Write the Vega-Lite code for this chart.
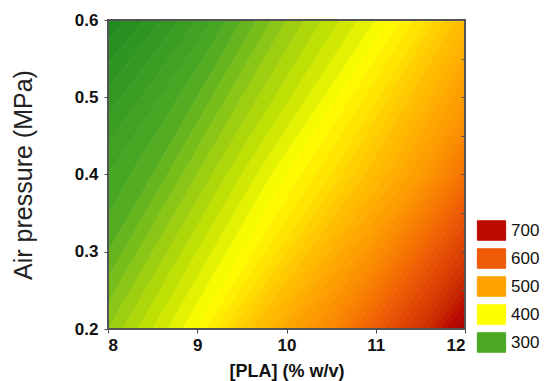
{
  "$schema": "https://vega.github.io/schema/vega-lite/v6.json",
  "width": 357,
  "height": 309,
  "autosize": "none",
  "padding": {"left": 108, "top": 20, "right": 83, "bottom": 52},
  "background": "white",
  "config": {
    "font": "Liberation Sans",
    "view": {"stroke": null}
  },
  "resolve": {"axis": {"y": "independent"}},
  "data": {"values": [
    {"z":235,"y":0.2,"x":0,"x2":6.333},{"z":235,"y":0.4,"x":0,"x2":6.75},{"z":235,"y":0.6,"x":0,"x2":8.2},
    {"z":245,"y":0.2,"x":6.333,"x2":6.5},{"z":245,"y":0.4,"x":6.75,"x2":7.0},{"z":245,"y":0.6,"x":8.2,"x2":8.4},
    {"z":255,"y":0.2,"x":6.5,"x2":6.667},{"z":255,"y":0.4,"x":7.0,"x2":7.25},{"z":255,"y":0.6,"x":8.4,"x2":8.6},
    {"z":265,"y":0.2,"x":6.667,"x2":6.833},{"z":265,"y":0.4,"x":7.25,"x2":7.5},{"z":265,"y":0.6,"x":8.6,"x2":8.8},
    {"z":275,"y":0.2,"x":6.833,"x2":7.0},{"z":275,"y":0.4,"x":7.5,"x2":7.75},{"z":275,"y":0.6,"x":8.8,"x2":9.0},
    {"z":285,"y":0.2,"x":7.0,"x2":7.167},{"z":285,"y":0.4,"x":7.75,"x2":8.0},{"z":285,"y":0.6,"x":9.0,"x2":9.167},
    {"z":295,"y":0.2,"x":7.167,"x2":7.333},{"z":295,"y":0.4,"x":8.0,"x2":8.25},{"z":295,"y":0.6,"x":9.167,"x2":9.333},
    {"z":305,"y":0.2,"x":7.333,"x2":7.5},{"z":305,"y":0.4,"x":8.25,"x2":8.5},{"z":305,"y":0.6,"x":9.333,"x2":9.5},
    {"z":315,"y":0.2,"x":7.5,"x2":7.667},{"z":315,"y":0.4,"x":8.5,"x2":8.667},{"z":315,"y":0.6,"x":9.5,"x2":9.667},
    {"z":325,"y":0.2,"x":7.667,"x2":7.833},{"z":325,"y":0.4,"x":8.667,"x2":8.833},{"z":325,"y":0.6,"x":9.667,"x2":9.833},
    {"z":335,"y":0.2,"x":7.833,"x2":8.0},{"z":335,"y":0.4,"x":8.833,"x2":9.0},{"z":335,"y":0.6,"x":9.833,"x2":10.0},
    {"z":345,"y":0.2,"x":8.0,"x2":8.167},{"z":345,"y":0.4,"x":9.0,"x2":9.167},{"z":345,"y":0.6,"x":10.0,"x2":10.2},
    {"z":355,"y":0.2,"x":8.167,"x2":8.333},{"z":355,"y":0.4,"x":9.167,"x2":9.333},{"z":355,"y":0.6,"x":10.2,"x2":10.4},
    {"z":365,"y":0.2,"x":8.333,"x2":8.5},{"z":365,"y":0.4,"x":9.333,"x2":9.5},{"z":365,"y":0.6,"x":10.4,"x2":10.6},
    {"z":375,"y":0.2,"x":8.5,"x2":8.667},{"z":375,"y":0.4,"x":9.5,"x2":9.667},{"z":375,"y":0.6,"x":10.6,"x2":10.8},
    {"z":385,"y":0.2,"x":8.667,"x2":8.833},{"z":385,"y":0.4,"x":9.667,"x2":9.833},{"z":385,"y":0.6,"x":10.8,"x2":11.0},
    {"z":395,"y":0.2,"x":8.833,"x2":9.0},{"z":395,"y":0.4,"x":9.833,"x2":10.0},{"z":395,"y":0.6,"x":11.0,"x2":11.143},
    {"z":405,"y":0.2,"x":9.0,"x2":9.1},{"z":405,"y":0.4,"x":10.0,"x2":10.167},{"z":405,"y":0.6,"x":11.143,"x2":11.286},
    {"z":415,"y":0.2,"x":9.1,"x2":9.2},{"z":415,"y":0.4,"x":10.167,"x2":10.333},{"z":415,"y":0.6,"x":11.286,"x2":11.429},
    {"z":425,"y":0.2,"x":9.2,"x2":9.3},{"z":425,"y":0.4,"x":10.333,"x2":10.5},{"z":425,"y":0.6,"x":11.429,"x2":11.571},
    {"z":435,"y":0.2,"x":9.3,"x2":9.4},{"z":435,"y":0.4,"x":10.5,"x2":10.625},{"z":435,"y":0.6,"x":11.571,"x2":11.667},
    {"z":445,"y":0.2,"x":9.4,"x2":9.5},{"z":445,"y":0.4,"x":10.625,"x2":10.75},{"z":445,"y":0.6,"x":11.667,"x2":11.778},
    {"z":455,"y":0.2,"x":9.5,"x2":9.611},{"z":455,"y":0.4,"x":10.75,"x2":10.875},{"z":455,"y":0.6,"x":11.778,"x2":11.889},
    {"z":465,"y":0.2,"x":9.611,"x2":9.722},{"z":465,"y":0.4,"x":10.875,"x2":11.0},{"z":465,"y":0.6,"x":11.889,"x2":12.0},
    {"z":475,"y":0.2,"x":9.722,"x2":9.833},{"z":475,"y":0.4,"x":11.0,"x2":11.125},{"z":475,"y":0.6,"x":12.0,"x2":12.111},
    {"z":485,"y":0.2,"x":9.833,"x2":9.944},{"z":485,"y":0.4,"x":11.125,"x2":11.25},{"z":485,"y":0.6,"x":12.111,"x2":12.222},
    {"z":495,"y":0.2,"x":9.944,"x2":10.056},{"z":495,"y":0.4,"x":11.25,"x2":11.375},{"z":495,"y":0.6,"x":12.222,"x2":12.333},
    {"z":505,"y":0.2,"x":10.056,"x2":10.167},{"z":505,"y":0.4,"x":11.375,"x2":11.5},{"z":505,"y":0.6,"x":12.333,"x2":12.444},
    {"z":515,"y":0.2,"x":10.167,"x2":10.278},{"z":515,"y":0.4,"x":11.5,"x2":11.583},{"z":515,"y":0.6,"x":12.444,"x2":12.556},
    {"z":525,"y":0.2,"x":10.278,"x2":10.389},{"z":525,"y":0.4,"x":11.583,"x2":11.667},{"z":525,"y":0.6,"x":12.556,"x2":12.667},
    {"z":535,"y":0.2,"x":10.389,"x2":10.5},{"z":535,"y":0.4,"x":11.667,"x2":11.75},{"z":535,"y":0.6,"x":12.667,"x2":12.778},
    {"z":545,"y":0.2,"x":10.5,"x2":10.583},{"z":545,"y":0.4,"x":11.75,"x2":11.833},{"z":545,"y":0.6,"x":12.778,"x2":12.889},
    {"z":555,"y":0.2,"x":10.583,"x2":10.667},{"z":555,"y":0.4,"x":11.833,"x2":11.917},{"z":555,"y":0.6,"x":12.889,"x2":13.0},
    {"z":565,"y":0.2,"x":10.667,"x2":10.75},{"z":565,"y":0.4,"x":11.917,"x2":12.0},{"z":565,"y":0.6,"x":13.0,"x2":13.111},
    {"z":575,"y":0.2,"x":10.75,"x2":10.833},{"z":575,"y":0.4,"x":12.0,"x2":12.083},{"z":575,"y":0.6,"x":13.111,"x2":13.222},
    {"z":585,"y":0.2,"x":10.833,"x2":10.917},{"z":585,"y":0.4,"x":12.083,"x2":12.167},{"z":585,"y":0.6,"x":13.222,"x2":13.333},
    {"z":595,"y":0.2,"x":10.917,"x2":11.0},{"z":595,"y":0.4,"x":12.167,"x2":12.25},{"z":595,"y":0.6,"x":13.333,"x2":13.444},
    {"z":605,"y":0.2,"x":11.0,"x2":11.083},{"z":605,"y":0.4,"x":12.25,"x2":12.333},{"z":605,"y":0.6,"x":13.444,"x2":13.556},
    {"z":615,"y":0.2,"x":11.083,"x2":11.167},{"z":615,"y":0.4,"x":12.333,"x2":12.417},{"z":615,"y":0.6,"x":13.556,"x2":13.667},
    {"z":625,"y":0.2,"x":11.167,"x2":11.25},{"z":625,"y":0.4,"x":12.417,"x2":12.5},{"z":625,"y":0.6,"x":13.667,"x2":13.778},
    {"z":635,"y":0.2,"x":11.25,"x2":11.333},{"z":635,"y":0.4,"x":12.5,"x2":12.583},{"z":635,"y":0.6,"x":13.778,"x2":13.889},
    {"z":645,"y":0.2,"x":11.333,"x2":11.417},{"z":645,"y":0.4,"x":12.583,"x2":12.667},{"z":645,"y":0.6,"x":13.889,"x2":14.0},
    {"z":655,"y":0.2,"x":11.417,"x2":11.5},{"z":655,"y":0.4,"x":12.667,"x2":12.75},{"z":655,"y":0.6,"x":14.0,"x2":14.111},
    {"z":665,"y":0.2,"x":11.5,"x2":11.571},{"z":665,"y":0.4,"x":12.75,"x2":12.833},{"z":665,"y":0.6,"x":14.111,"x2":14.222},
    {"z":675,"y":0.2,"x":11.571,"x2":11.643},{"z":675,"y":0.4,"x":12.833,"x2":12.917},{"z":675,"y":0.6,"x":14.222,"x2":14.333},
    {"z":685,"y":0.2,"x":11.643,"x2":11.714},{"z":685,"y":0.4,"x":12.917,"x2":13.0},{"z":685,"y":0.6,"x":14.333,"x2":14.444},
    {"z":695,"y":0.2,"x":11.714,"x2":11.786},{"z":695,"y":0.4,"x":13.0,"x2":13.083},{"z":695,"y":0.6,"x":14.444,"x2":14.556},
    {"z":705,"y":0.2,"x":11.786,"x2":11.857},{"z":705,"y":0.4,"x":13.083,"x2":13.167},{"z":705,"y":0.6,"x":14.556,"x2":14.667},
    {"z":715,"y":0.2,"x":11.857,"x2":11.929},{"z":715,"y":0.4,"x":13.167,"x2":13.25},{"z":715,"y":0.6,"x":14.667,"x2":14.778},
    {"z":725,"y":0.2,"x":11.929,"x2":20},{"z":725,"y":0.4,"x":13.25,"x2":20},{"z":725,"y":0.6,"x":14.778,"x2":20}
  ]},
  "layer": [
    {
      "mark": {"type": "area", "orient": "horizontal", "clip": true, "opacity": 1, "strokeWidth": 0.6},
      "encoding": {
        "y": {
          "field": "y", "type": "quantitative",
          "scale": {"domain": [0.2, 0.6], "nice": false, "zero": false},
          "axis": {
            "values": [0.2, 0.3, 0.4, 0.5, 0.6], "format": ".1f", "grid": false, "domain": false,
            "tickSize": 4, "tickColor": "#444", "labelPadding": 6,
            "labelFontSize": 17, "labelFontWeight": "bold", "labelColor": "#111",
            "title": "Air pressure (MPa)", "titleFontSize": 25, "titleFontWeight": "normal",
            "titleColor": "#222", "titlePadding": 38
          }
        },
        "x": {
          "field": "x", "type": "quantitative",
          "scale": {"domain": [8, 12], "nice": false, "zero": false},
          "axis": {
            "values": [8, 9, 10, 11, 12], "format": "d", "grid": false, "domain": false,
            "tickSize": 4, "tickColor": "#444", "labelPadding": 4,
            "labelFontSize": 17, "labelFontWeight": "bold", "labelColor": "#111",
            "title": "[PLA] (% w/v)", "titleFontSize": 18, "titleFontWeight": "bold",
            "titleColor": "#111", "titlePadding": 9
          }
        },
        "x2": {"field": "x2"},
        "detail": {"field": "z", "type": "quantitative"},
        "color": {
          "field": "z", "type": "quantitative",
          "scale": {
            "domain": [220, 300, 350, 400, 450, 500, 600, 700, 740],
            "range": ["#15841f", "#4aa824", "#a6d20c", "#ffff00", "#ffcc00", "#ffa200", "#ee5a06", "#bc0a00", "#9c0000"]
          },
          "legend": {
            "type": "symbol", "values": [700, 600, 500, 400, 300], "title": null,
            "symbolType": "M-1.45,-1H1.45V1H-1.45Z", "symbolSize": 380,
            "symbolStrokeColor": "#444", "symbolStrokeWidth": 1, "symbolOpacity": 1,
            "labelFontSize": 17, "labelColor": "#111", "labelOffset": 9,
            "rowPadding": 3, "padding": 0,
            "orient": "none", "legendX": 373, "legendY": 200
          }
        },
        "stroke": {
          "field": "z", "type": "quantitative",
          "scale": {
            "domain": [220, 300, 350, 400, 450, 500, 600, 700, 740],
            "range": ["#15841f", "#4aa824", "#a6d20c", "#ffff00", "#ffcc00", "#ffa200", "#ee5a06", "#bc0a00", "#9c0000"]
          },
          "legend": null
        }
      }
    },
    {
      "mark": {"type": "rect", "filled": false, "stroke": "#555", "strokeWidth": 1.2},
      "encoding": {
        "x": {"datum": 8, "type": "quantitative"},
        "x2": {"datum": 12},
        "y": {
          "datum": 0.2, "type": "quantitative",
          "axis": {
            "orient": "right", "values": [0.25, 0.3, 0.35, 0.4, 0.45, 0.5, 0.55],
            "labels": false, "title": null, "domain": false, "grid": false, "zindex": 2,
            "tickSize": -4, "tickColor": "#555", "tickWidth": 1
          }
        },
        "y2": {"datum": 0.6}
      }
    }
  ]
}
